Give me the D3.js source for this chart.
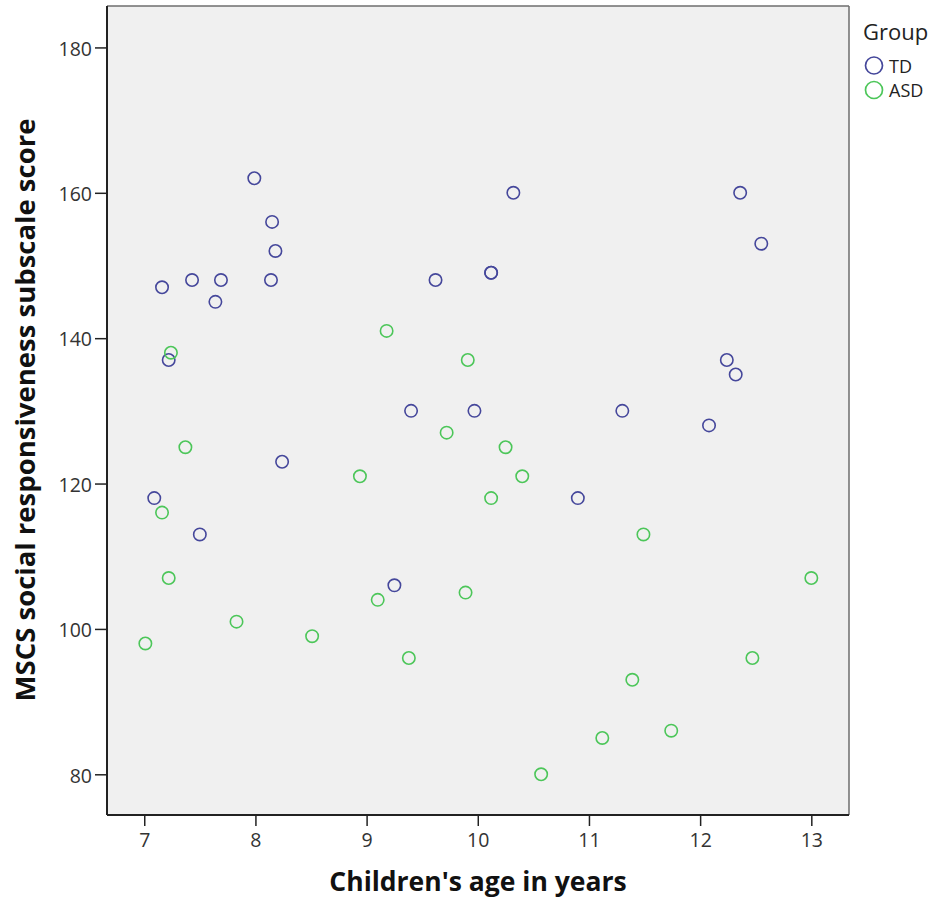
<!DOCTYPE html>
<html>
<head>
<meta charset="utf-8">
<script src="https://cdn.jsdelivr.net/npm/d3@7"></script>
<style>
  html, body { margin: 0; padding: 0; background: #fff; }
  svg { display: block; }
</style>
</head>
<body>
<svg id="chart" width="934" height="898"></svg>
<script>
// ---- Data ----
const groups = ["TD", "ASD"];
const tdAge   = [7.99, 8.15, 8.18, 8.14, 7.16, 7.43, 7.69, 7.64, 7.22, 7.09, 7.50, 8.24, 10.32, 9.62, 10.12, 10.12, 9.40, 9.97, 9.25, 10.90, 11.30, 12.08, 12.24, 12.32, 12.36, 12.55];
const tdScore = [162, 156, 152, 148, 147, 148, 148, 145, 137, 118, 113, 123, 160, 148, 149, 149, 130, 130, 106, 118, 130, 128, 137, 135, 160, 153];
const asdAge   = [7.24, 7.37, 7.16, 7.22, 7.01, 7.83, 8.51, 8.94, 9.18, 9.91, 9.72, 10.25, 10.40, 10.12, 9.10, 9.89, 9.38, 10.57, 11.12, 11.39, 11.49, 11.74, 12.47, 13.00];
const asdScore = [138, 125, 116, 107, 98, 101, 99, 121, 141, 137, 127, 125, 121, 118, 104, 105, 96, 80, 85, 93, 113, 86, 96, 107];
const xTicks = [7, 8, 9, 10, 11, 12, 13];
const yTicks = [80, 100, 120, 140, 160, 180];
const xTitle = "Children's age in years";
const yTitle = "MSCS social responsiveness subscale score";
const legendTitle = "Group";

const colors = { TD: "#45479b", ASD: "#4cc659" };

// ---- Layout ----
const svg = d3.select("#chart");
const plot = { left: 107, right: 849, top: 6, bottom: 815 };

const x = d3.scaleLinear().domain([6.665, 13.339]).range([plot.left, plot.right]);
const y = d3.scaleLinear().domain([74.4, 185.7]).range([plot.bottom, plot.top]);

// Plot background
svg.append("rect")
  .attr("x", plot.left).attr("y", plot.top)
  .attr("width", plot.right - plot.left).attr("height", plot.bottom - plot.top)
  .attr("fill", "#f0f0f0");

// Frame: top & right gray
svg.append("line").attr("x1", plot.left).attr("x2", plot.right).attr("y1", plot.top).attr("y2", plot.top)
  .attr("stroke", "#6e6e6e").attr("stroke-width", 1.5);
svg.append("line").attr("x1", plot.right).attr("x2", plot.right).attr("y1", plot.top).attr("y2", plot.bottom)
  .attr("stroke", "#6e6e6e").attr("stroke-width", 1.5);

// Axes
const fontTick = "'Open Sans', 'DejaVu Sans', sans-serif";
const xAxis = svg.append("g").attr("transform", `translate(0,${plot.bottom})`)
  .call(d3.axisBottom(x).tickValues(xTicks).tickFormat(d3.format("d")).tickSizeOuter(0).tickSize(11).tickPadding(7));
const yAxis = svg.append("g").attr("transform", `translate(${plot.left},0)`)
  .call(d3.axisLeft(y).tickValues(yTicks).tickFormat(d3.format("d")).tickSizeOuter(0).tickSize(12).tickPadding(3));

[xAxis, yAxis].forEach(g => {
  g.select(".domain").attr("stroke", "#222").attr("stroke-width", 2);
  g.selectAll(".tick line").attr("stroke", "#222").attr("stroke-width", 1.5);
  g.selectAll(".tick text").attr("fill", "#333").style("font-family", fontTick).style("font-size", "19.5px");
});
yAxis.selectAll(".tick text").attr("dy", "0.4em");
xAxis.select(".domain").attr("d", `M${plot.left},0H${plot.right}`);
yAxis.select(".domain").attr("d", `M0,${plot.top}V${plot.bottom}`);

// Axis titles
svg.append("text")
  .attr("x", (plot.left + plot.right) / 2).attr("y", 891)
  .attr("text-anchor", "middle")
  .style("font-family", "'Open Sans', 'DejaVu Sans', sans-serif")
  .style("font-weight", "bold").style("font-size", "26.5px")
  .attr("fill", "#111")
  .text(xTitle);

svg.append("text")
  .attr("transform", `translate(35,410) rotate(-90)`)
  .attr("text-anchor", "middle")
  .style("font-family", "'Open Sans', 'DejaVu Sans', sans-serif")
  .style("font-weight", "bold").style("font-size", "27.5px")
  .attr("fill", "#111")
  .text(yTitle);

// Points
const series = [
  { name: "TD", ages: tdAge, scores: tdScore },
  { name: "ASD", ages: asdAge, scores: asdScore }
];
series.forEach(s => {
  const pts = s.ages.map((a, i) => ({ a, v: s.scores[i] }));
  svg.append("g").selectAll("circle").data(pts).join("circle")
    .attr("cx", d => x(d.a)).attr("cy", d => y(d.v))
    .attr("r", 6.2)
    .attr("fill", "none")
    .attr("stroke", colors[s.name])
    .attr("stroke-width", 1.6);
});

// Legend
const lg = svg.append("g");
lg.append("text").attr("x", 863).attr("y", 40)
  .style("font-family", fontTick).style("font-size", "22px").attr("fill", "#222")
  .text(legendTitle);
groups.forEach((gname, i) => {
  const cy = 65.5 + i * 24.5;
  lg.append("circle").attr("cx", 874).attr("cy", cy).attr("r", 8.5)
    .attr("fill", "none").attr("stroke", colors[gname]).attr("stroke-width", 1.7);
  lg.append("text").attr("x", 889).attr("y", cy + 7)
    .style("font-family", fontTick).style("font-size", "18px").attr("fill", "#222")
    .text(gname);
});
</script>
</body>
</html>
